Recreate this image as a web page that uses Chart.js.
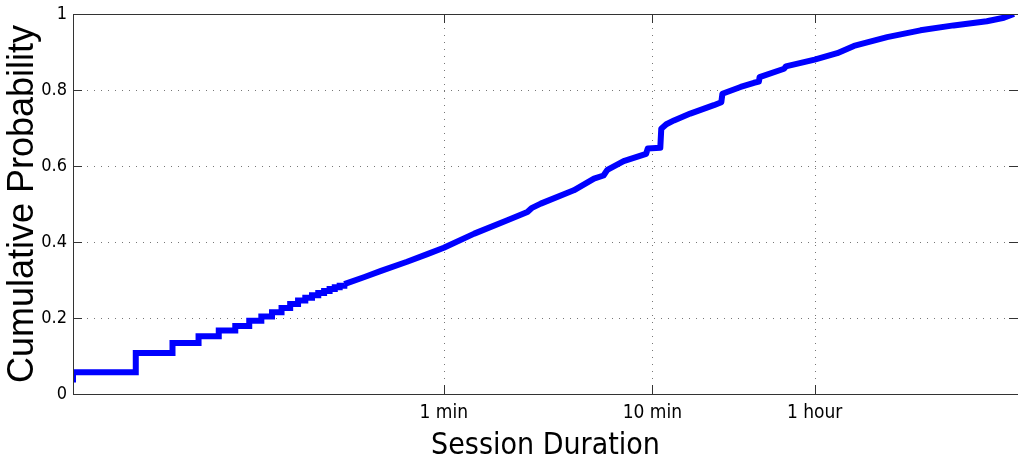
<!DOCTYPE html>
<html>
<head>
<meta charset="utf-8">
<script src="https://cdn.jsdelivr.net/npm/chart.js@4.4.0/dist/chart.umd.min.js"></script>
<style>
  html, body { margin: 0; padding: 0; background: #fff; }
  #wrap { width: 1018px; height: 468px; }
</style>
</head>
<body>
<div id="wrap"><canvas id="cdf" width="1018" height="468"></canvas></div>
<script>
// stair part of the CDF, one step per whole second
const stepSec  = [1, 1, 2, 3, 4, 5, 6, 7, 8, 9, 10, 11, 12, 13, 14, 15, 16, 17, 18, 19, 20];
const stepProb = [0.03, 0.057, 0.108, 0.134, 0.152, 0.167, 0.179, 0.193, 0.204, 0.215, 0.226,
                  0.237, 0.246, 0.253, 0.26, 0.266, 0.271, 0.276, 0.281, 0.285, 0.289];

// the rest of the curve (seconds -> probability)
const tailSec  = [20, 25, 30, 40, 50, 60, 84, 121, 151, 158, 175, 252, 315, 350, 365, 437,
                  560, 570, 655, 662, 700, 762, 912, 1183, 1285, 1300, 1590, 1842, 1946, 1960,
                  2570, 2620, 3600, 4620, 5556, 8016, 11580, 16700, 24100, 29100, 32500];
const tailProb = [0.289, 0.308, 0.324, 0.348, 0.368, 0.385, 0.422, 0.457, 0.479, 0.489, 0.501,
                  0.536, 0.567, 0.575, 0.59, 0.613, 0.632, 0.646, 0.648, 0.698, 0.71, 0.72,
                  0.738, 0.76, 0.768, 0.79, 0.808, 0.819, 0.822, 0.834, 0.856, 0.862, 0.88,
                  0.897, 0.916, 0.939, 0.957, 0.97, 0.981, 0.99, 1.0];

const xTickSec    = [60, 600, 3600];
const xTickLabels = ['1 min', '10 min', '1 hour'];
const yTickVals   = [0, 0.2, 0.4, 0.6, 0.8, 1];
const yTickLabels = ['0', '0.2', '0.4', '0.6', '0.8', '1'];

const narrow = '"DejaVu Sans Condensed", "Liberation Sans", sans-serif';
const regular = '"Liberation Sans", Arial, sans-serif';

const toPts = (xs, ys) => xs.map((v, i) => ({ x: v, y: ys[i] }));

// dotted grid, inward tick marks and the box round the plot
const frame = {
  id: 'frame',
  beforeDatasetsDraw(chart) {
    const { ctx, chartArea: a, scales: { x, y } } = chart;
    ctx.save();
    ctx.strokeStyle = '#777';
    ctx.lineWidth = 1;
    ctx.setLineDash([1, 6]);
    ctx.beginPath();
    xTickSec.forEach(v => {
      const px = Math.round(x.getPixelForValue(v)) + 0.5;
      ctx.moveTo(px, a.top); ctx.lineTo(px, a.bottom);
    });
    yTickVals.slice(1, -1).forEach(v => {
      const py = Math.round(y.getPixelForValue(v)) + 0.5;
      ctx.moveTo(a.left, py); ctx.lineTo(a.right, py);
    });
    ctx.stroke();
    ctx.restore();
  },
  afterDatasetsDraw(chart) {
    const { ctx, chartArea: a, scales: { x, y } } = chart;
    const len = 9;
    ctx.save();
    ctx.strokeStyle = '#333';
    ctx.lineWidth = 1;
    ctx.beginPath();
    xTickSec.forEach(v => {
      const px = Math.round(x.getPixelForValue(v)) + 0.5;
      ctx.moveTo(px, a.bottom); ctx.lineTo(px, a.bottom - len);
      ctx.moveTo(px, a.top); ctx.lineTo(px, a.top + len);
    });
    yTickVals.forEach(v => {
      const py = Math.round(y.getPixelForValue(v)) + 0.5;
      ctx.moveTo(a.left, py); ctx.lineTo(a.left + len, py);
      ctx.moveTo(a.right, py); ctx.lineTo(a.right - len, py);
    });
    ctx.stroke();
    ctx.strokeRect(Math.round(a.left) + 0.5, Math.round(a.top) + 0.5,
                   Math.round(a.right - a.left), Math.round(a.bottom - a.top));
    ctx.restore();
  }
};

new Chart(document.getElementById('cdf').getContext('2d'), {
  type: 'line',
  data: {
    datasets: [{
      data: toPts(stepSec, stepProb),
      stepped: 'before',
      borderColor: '#0000ff',
      borderWidth: 6,
      borderJoinStyle: 'miter',
      pointRadius: 0
    }, {
      data: toPts(tailSec, tailProb),
      borderColor: '#0000ff',
      borderWidth: 6,
      borderJoinStyle: 'round',
      pointRadius: 0,
      tension: 0
    }]
  },
  options: {
    responsive: false,
    animation: false,
    layout: { padding: { top: 14, right: 0, left: 0, bottom: 0 } },
    plugins: { legend: { display: false }, tooltip: { enabled: false } },
    scales: {
      x: {
        type: 'logarithmic',
        min: 1,
        max: 34000,
        afterBuildTicks: s => { s.ticks = xTickSec.map(v => ({ value: v })); },
        afterFit: s => { s.height = 74; s.paddingLeft = 0; s.paddingRight = 0; },
        ticks: {
          autoSkip: false,
          maxRotation: 0,
          padding: 8,
          color: '#000',
          font: { family: narrow, size: 19 },
          callback: (v, i) => xTickLabels[i]
        },
        grid: { display: false, drawTicks: false },
        border: { display: false },
        title: {
          display: true,
          text: 'Session Duration',
          color: '#000',
          font: { family: narrow, size: 30 },
          padding: { top: 0, bottom: 4 }
        }
      },
      y: {
        min: 0,
        max: 1,
        afterBuildTicks: s => { s.ticks = yTickVals.map(v => ({ value: v })); },
        afterFit: s => { s.width = 73; s.paddingTop = 0; s.paddingBottom = 0; },
        ticks: {
          padding: 6,
          color: '#000',
          font: { family: narrow, size: 18 },
          callback: (v, i) => yTickLabels[i]
        },
        grid: { display: false, drawTicks: false },
        border: { display: false },
        title: {
          display: true,
          text: 'Cumulative Probability',
          color: '#000',
          font: { family: regular, size: 36 },
          padding: { top: 1, bottom: 0 }
        }
      }
    }
  },
  plugins: [frame]
});
</script>
</body>
</html>
